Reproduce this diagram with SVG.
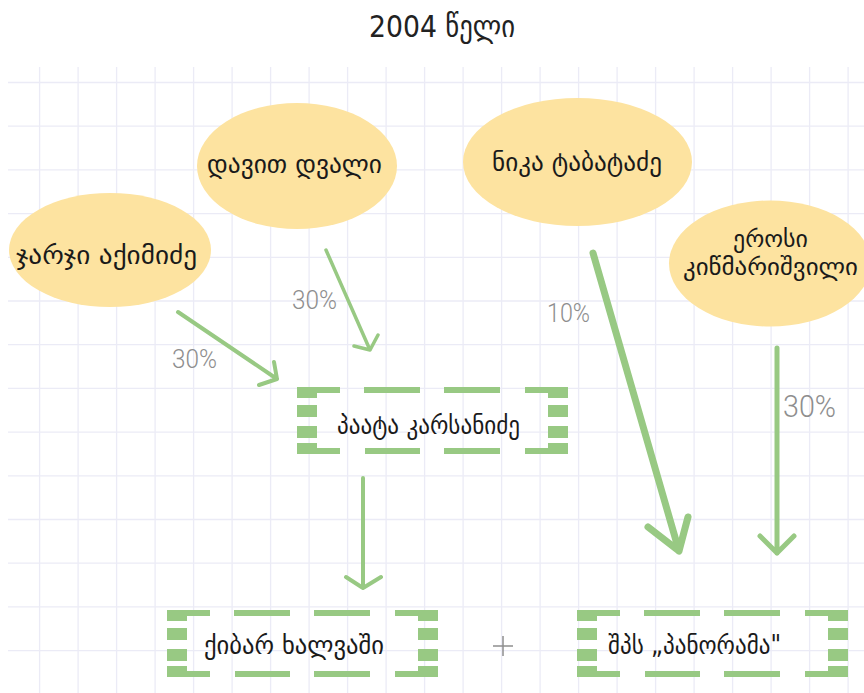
<svg xmlns="http://www.w3.org/2000/svg" xmlns:xlink="http://www.w3.org/1999/xlink" width="864" height="693" viewBox="0 0 864 693">
<style>
.grid{stroke:#ebebf6;stroke-width:1.3;fill:none}
.ell{fill:#fde3a0}
.nt{font-family:"DejaVu Sans","Liberation Sans",sans-serif;font-size:26px;fill:#1a1a1a}
.nt2{font-size:23px}
.lbl{font-family:Roboto,"Liberation Sans",sans-serif;font-weight:300;fill:#8e8e8e}
.con{stroke:#98c983;fill:none;stroke-linecap:round;stroke-linejoin:round}
.bx{fill:#98c983}
</style>
<defs>
<g id="bbox">
<rect class="bx" x="0" y="0" width="43" height="6"/>
<rect class="bx" x="67" y="0" width="56" height="6"/>
<rect class="bx" x="147" y="0" width="56" height="6"/>
<rect class="bx" x="228" y="0" width="43" height="6"/>
<rect class="bx" x="0" y="61" width="43" height="6"/>
<rect class="bx" x="68" y="61" width="55" height="6"/>
<rect class="bx" x="147" y="61" width="56" height="6"/>
<rect class="bx" x="228" y="61" width="43" height="6"/>
<rect class="bx" x="0" y="0" width="20" height="11"/>
<rect class="bx" x="0" y="18" width="20" height="12"/>
<rect class="bx" x="0" y="39" width="20" height="12"/>
<rect class="bx" x="0" y="56" width="20" height="11"/>
<rect class="bx" x="251" y="0" width="20" height="11"/>
<rect class="bx" x="251" y="18" width="20" height="12"/>
<rect class="bx" x="251" y="39" width="20" height="12"/>
<rect class="bx" x="251" y="56" width="20" height="11"/>
</g>
</defs>
<rect width="864" height="693" fill="#ffffff"/>
<path class="grid" d="M39.6,67V693M78.1,67V693M116.6,67V693M155.1,67V693M193.6,67V693M232.1,67V693M270.6,67V693M309.1,67V693M347.6,67V693M386.1,67V693M424.6,67V693M463.1,67V693M501.6,67V693M540.1,67V693M578.6,67V693M617.1,67V693M655.6,67V693M694.1,67V693M732.6,67V693M771.1,67V693M809.6,67V693M848.1,67V693"/>
<path class="grid" d="M8,82.5H864M8,126.2H864M8,169.9H864M8,213.6H864M8,257.3H864M8,301H864M8,344.7H864M8,388.4H864M8,432.1H864M8,475.8H864M8,519.5H864M8,563.2H864M8,606.9H864M8,650.6H864"/>
<text x="369" y="37" font-family="'DejaVu Sans Condensed','DejaVu Sans',sans-serif" font-size="31" fill="#222" textLength="146" lengthAdjust="spacingAndGlyphs">2004 წელი</text>
<g id="connectors">
<path class="con" stroke-width="4" d="M178,312L277,379M259,385L277,379L274,362"/>
<path class="con" stroke-width="3.5" d="M326,250L370,350M354,346L370,350L378,335"/>
<path class="con" stroke-width="7" d="M593,253L679,551M648,527L679,551L688,517"/>
<path class="con" stroke-width="5" d="M777,348L777,553M760,536L777,553L794,536"/>
<path class="con" stroke-width="4" d="M363,478L363,588M346,577L363,588L381,577"/>
</g>
<g id="labels">
<text class="lbl" x="172" y="368" font-size="25" textLength="45" lengthAdjust="spacingAndGlyphs">30%</text>
<text class="lbl" x="292" y="309" font-size="25" textLength="45" lengthAdjust="spacingAndGlyphs">30%</text>
<text class="lbl" x="547" y="322" font-size="25" textLength="43" lengthAdjust="spacingAndGlyphs">10%</text>
<text class="lbl" x="783" y="417" font-size="31" textLength="53" lengthAdjust="spacingAndGlyphs">30%</text>
</g>
<g id="node-jarji">
<ellipse class="ell" cx="110" cy="250" rx="101" ry="57"/>
<text class="nt" x="16" y="264" textLength="181" lengthAdjust="spacingAndGlyphs">ჯარჯი აქიმიძე</text>
</g>
<g id="node-davit">
<ellipse class="ell" cx="297" cy="166" rx="100" ry="63"/>
<text class="nt" x="207" y="173" textLength="175" lengthAdjust="spacingAndGlyphs">დავით დვალი</text>
</g>
<g id="node-nika">
<ellipse class="ell" cx="577.5" cy="162" rx="114.5" ry="64"/>
<text class="nt" x="492" y="171" textLength="170" lengthAdjust="spacingAndGlyphs">ნიკა ტაბატაძე</text>
</g>
<g id="node-erosi">
<ellipse class="ell" cx="770" cy="263.5" rx="101" ry="63"/>
<text class="nt nt2" x="733" y="247" textLength="75" lengthAdjust="spacingAndGlyphs">ეროსი</text>
<text class="nt nt2" x="683" y="275" textLength="175" lengthAdjust="spacingAndGlyphs">კიწმარიშვილი</text>
</g>
<g id="node-paata">
<use xlink:href="#bbox" x="297" y="387"/>
<text class="nt" x="337" y="434" textLength="183" lengthAdjust="spacingAndGlyphs">პაატა კარსანიძე</text>
</g>
<g id="node-kibar">
<use xlink:href="#bbox" x="167" y="610"/>
<text class="nt" x="204" y="654" textLength="180" lengthAdjust="spacingAndGlyphs">ქიბარ ხალვაში</text>
</g>
<g id="node-panorama">
<use xlink:href="#bbox" x="577" y="610"/>
<text class="nt" x="608" y="654" textLength="173" lengthAdjust="spacingAndGlyphs">შპს „პანორამა"</text>
</g>
<g id="plus">
<path d="M493,646H513M503,636V656" stroke="#8e8e8e" stroke-width="1.5" fill="none"/>
</g>
</svg>
